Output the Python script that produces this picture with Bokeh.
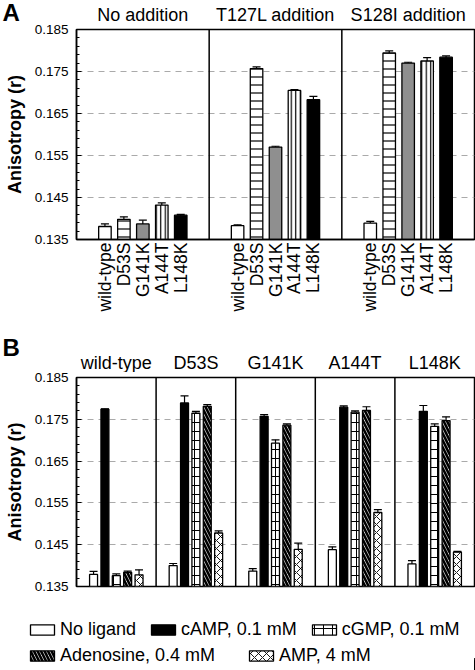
import math
import numpy as np
from bokeh.plotting import figure
from bokeh.layouts import column
from bokeh.models import (ColumnDataSource, Whisker, TeeHead, FixedTicker,
                          Span, Legend, LegendItem, PrintfTickFormatter, Range1d)
from bokeh.core.properties import value
from bokeh.embed import file_html
from bokeh.resources import INLINE

FONT = "Liberation Sans"

# ---------------- data ----------------
mutants = ["wild-type", "D53S", "G141K", "A144T", "L148K"]
additions = ["No addition", "T127L addition", "S128I addition"]
ligands = ["No ligand", "cAMP, 0.1 mM", "cGMP, 0.1 mM", "Adenosine, 0.4 mM", "AMP, 4 mM"]
panel_letters = ["A", "B"]
y_ticks = [0.135, 0.145, 0.155, 0.165, 0.175, 0.185]

# Panel A: anisotropy per mutant, one list per addition
a_no_addition = [0.1381, 0.1398, 0.1387, 0.1432, 0.1408]
a_no_addition_err = [0.0006, 0.0006, 0.0009, 0.0005, 0.0002]
a_t127l = [0.1383, 0.1757, 0.1570, 0.1705, 0.1683]
a_t127l_err = [0.0002, 0.0004, 0.0002, 0.0002, 0.0008]
a_s128i = [0.1389, 0.1794, 0.1770, 0.1775, 0.1784]
a_s128i_err = [0.0004, 0.0005, 0.0002, 0.0008, 0.0003]

# Panel B: anisotropy per mutant, one list per ligand
b_no_ligand = [0.1379, 0.1400, 0.1387, 0.1438, 0.1404]
b_no_ligand_err = [0.0007, 0.0005, 0.0006, 0.0007, 0.0008]
b_camp = [0.1774, 0.1789, 0.1757, 0.1779, 0.1769]
b_camp_err = [0.0001, 0.0017, 0.0004, 0.0003, 0.0014]
b_cgmp = [0.1376, 0.1765, 0.1693, 0.1767, 0.1733]
b_cgmp_err = [0.0004, 0.0004, 0.0008, 0.0003, 0.0006]
b_adenosine = [0.1384, 0.1781, 0.1736, 0.1771, 0.1747]
b_adenosine_err = [0.0003, 0.0004, 0.0003, 0.0009, 0.0009]
b_amp = [0.1378, 0.1478, 0.1439, 0.1527, 0.1432]
b_amp_err = [0.0012, 0.0005, 0.0015, 0.0007, 0.0002]

# ---------------- styles ----------------
style_a = [
    dict(fill_color="white"),
    dict(fill_color="white", hatch_pattern="horizontal_line", hatch_scale=8, hatch_weight=1.2, hatch_color="black"),
    dict(fill_color="#8f8f8f"),
    dict(fill_color="white", hatch_pattern="vertical_line", hatch_scale=4.5, hatch_weight=1.2, hatch_color="black"),
    dict(fill_color="black"),
]
style_b = [
    dict(fill_color="white"),
    dict(fill_color="black"),
    dict(fill_color="white", hatch_pattern="cross", hatch_scale=9, hatch_weight=1.0, hatch_color="black"),
    dict(fill_color="white", hatch_pattern="left_diagonal_line", hatch_scale=7, hatch_weight=2.6, hatch_color="black"),
    dict(fill_color="white", hatch_pattern="diagonal_cross", hatch_scale=8, hatch_weight=0.9, hatch_color="black"),
]

SLOTS = 7
W = 475
FL = 76
FR = 1


def blank_figure(height, x_range, y_range):
    f = figure(width=W, height=height, x_range=x_range, y_range=y_range, title=None,
               output_backend="svg", toolbar_location=None,
               x_axis_location=None, y_axis_location=None,
               min_border_left=0, min_border_right=0, min_border_top=0, min_border_bottom=0)
    f.outline_line_color = None
    f.background_fill_color = "white"
    f.border_fill_color = "white"
    for g in f.grid:
        g.visible = False
    return f


def make_header(height, section_names, letter, letter_y, title_y):
    n_sec = len(section_names)
    ppu = (W - FL - FR) / (SLOTS * n_sec)
    h = blank_figure(height, Range1d(-FL / ppu, SLOTS * n_sec + FR / ppu), Range1d(0, height))
    h.text(x=[SLOTS * i + SLOTS / 2 for i in range(n_sec)], y=[title_y] * n_sec, text=section_names,
           text_align="center", text_baseline="middle", text_font=value(FONT),
           text_font_size="18px", text_color="black")
    h.text(x=[-(FL - 2) / ppu], y=[letter_y], text=[letter], text_align="left",
           text_baseline="middle", text_font=value(FONT), text_font_size="24px",
           text_font_style="bold", text_color="black")
    return h


def make_panel(height, top_border, bottom_border, n_sec, show_x):
    p = figure(width=W, height=height, x_range=Range1d(0, SLOTS * n_sec),
               y_range=Range1d(y_ticks[0], y_ticks[-1]), title=None,
               output_backend="svg", toolbar_location=None,
               x_axis_location="below" if show_x else None,
               min_border_left=FL, min_border_right=FR,
               min_border_top=top_border, min_border_bottom=bottom_border)
    p.background_fill_color = "white"
    p.border_fill_color = "white"
    p.outline_line_color = "black"
    p.outline_line_width = 1.5
    p.outline_line_alpha = 1.0
    p.xgrid.visible = False

    minor = list(np.round(np.arange(y_ticks[0], y_ticks[-1] + 1e-9, 0.002), 3))
    ticker = FixedTicker(ticks=y_ticks, minor_ticks=minor)
    ya = p.yaxis[0]
    ya.ticker = ticker
    ya.formatter = PrintfTickFormatter(format="%.3f")
    ya.major_tick_in = 5
    ya.major_tick_out = 0
    ya.minor_tick_in = 3
    ya.minor_tick_out = 0
    ya.axis_line_width = 1.5
    ya.axis_line_color = "black"
    ya.major_tick_line_color = "black"
    ya.minor_tick_line_color = "black"
    ya.major_label_text_font = FONT
    ya.major_label_text_font_size = "13.5px"
    ya.major_label_text_color = "black"
    ya.major_label_standoff = 8
    ya.axis_label = "Anisotropy (r)"
    ya.axis_label_text_font = FONT
    ya.axis_label_text_font_size = "18px"
    ya.axis_label_text_font_style = "bold"
    ya.axis_label_text_color = "black"
    ya.axis_label_standoff = 7

    p.ygrid.ticker = ticker
    p.ygrid.grid_line_color = "#aaaaaa"
    p.ygrid.grid_line_dash = "6 5"
    p.ygrid.grid_line_width = 1

    for i in range(1, n_sec):
        p.add_layout(Span(location=SLOTS * i, dimension="height", line_color="black", line_width=1.5))
    return p


def add_series(p, series_vals, series_errs, styles, n_sec, width):
    out = []
    for j, (vals, errs, st) in enumerate(zip(series_vals, series_errs, styles)):
        xs = [SLOTS * i + j + 1.5 for i in range(n_sec)]
        src = ColumnDataSource(dict(x=xs, top=vals,
                                    upper=[v + e for v, e in zip(vals, errs)],
                                    lower=[v - e for v, e in zip(vals, errs)]))
        p.vbar(x="x", top="top", bottom=y_ticks[0], width=width, source=src,
               line_color="black", line_width=1.3, **st)
        out.append(src)
        p.add_layout(Whisker(base="x", upper="upper", lower="lower", source=src, dimension="height",
                             line_color="black", line_width=1.2,
                             upper_head=TeeHead(size=8, line_color="black", line_width=1.2),
                             lower_head=TeeHead(size=8, line_color="black", line_width=1.2)))
    return out


# ---------------- panel A ----------------
ha = make_header(24, additions, panel_letters[0], 12.5, 9.5)
pa = make_panel(306, 5, 91, len(additions), True)
a_by_mutant = [[a_no_addition[j], a_t127l[j], a_s128i[j]] for j in range(len(mutants))]
a_err_by_mutant = [[a_no_addition_err[j], a_t127l_err[j], a_s128i_err[j]] for j in range(len(mutants))]
add_series(pa, a_by_mutant, a_err_by_mutant, style_a, len(additions), 0.66)

xa = pa.below[0]
tick_pos = [SLOTS * i + j + 1.5 for i in range(len(additions)) for j in range(len(mutants))]
xa.ticker = FixedTicker(ticks=tick_pos)
xa.major_label_overrides = {SLOTS * i + j + 1.5: m for i in range(len(additions)) for j, m in enumerate(mutants)}
xa.major_label_orientation = math.pi / 2
xa.major_tick_line_color = None
xa.minor_tick_line_color = None
xa.major_tick_in = 0
xa.major_tick_out = 0
xa.axis_line_color = "black"
xa.axis_line_width = 1.5
xa.major_label_text_font = FONT
xa.major_label_text_font_size = "17.5px"
xa.major_label_text_color = "black"
xa.major_label_standoff = 3

# ---------------- panel B ----------------
hb = make_header(42, mutants, panel_letters[1], 25.5, 10)
pb = make_panel(228, 5, 14, len(mutants), False)
b_series = [b_no_ligand, b_camp, b_cgmp, b_adenosine, b_amp]
b_errs = [b_no_ligand_err, b_camp_err, b_cgmp_err, b_adenosine_err, b_amp_err]
b_sources = add_series(pb, b_series, b_errs, style_b, len(mutants), 0.7)

# ---------------- legend strip (swatches reuse panel B data, kept out of view) ----------------
lf = blank_figure(70, Range1d(-100, -99), Range1d(0, 1))
swatches = [lf.vbar(x="x", top="top", bottom=0, width=0.7, source=src,
                    line_color="black", line_width=1.3, **st)
            for src, st in zip(b_sources, style_b)]
common = dict(orientation="horizontal", background_fill_alpha=0, border_line_color=None,
              padding=0, margin=0, label_standoff=3, glyph_width=30, glyph_height=13,
              label_text_font=FONT, label_text_font_size="18px", label_text_color="black",
              label_height=22)
leg1 = Legend(items=[LegendItem(label=ligands[k], renderers=[swatches[k]]) for k in range(3)],
              location=(27, 30), spacing=12, **common)
leg2 = Legend(items=[LegendItem(label=ligands[k], renderers=[swatches[k]]) for k in range(3, 5)],
              location=(27, 4), spacing=31, **common)
lf.add_layout(leg1, "center")
lf.add_layout(leg2, "center")

layout = column(ha, column(pa), hb, column(pb), lf)
open("out.html", "w").write(file_html(layout, INLINE))
